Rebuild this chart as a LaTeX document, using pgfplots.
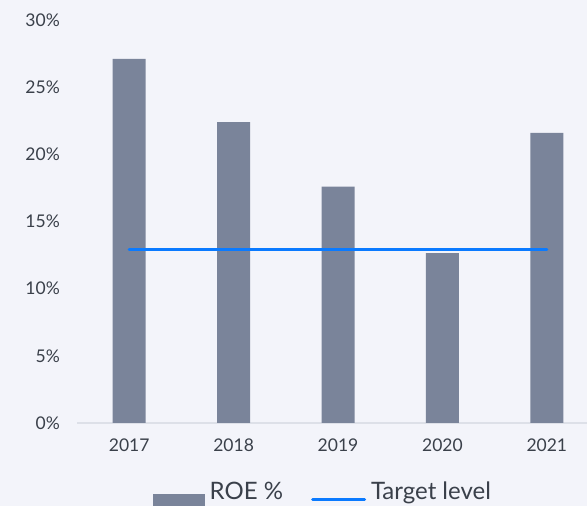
\documentclass[border=0pt]{standalone}
\usepackage{fontspec}
\setmainfont{Lato}
\usepackage{pgfplots}
\pgfplotsset{compat=1.18}
\definecolor{bgcol}{RGB}{243,244,250}
\definecolor{barcol}{RGB}{122,132,154}
\definecolor{linecol}{RGB}{10,122,255}
\definecolor{basecol}{RGB}{221,224,232}
\definecolor{txtcol}{RGB}{58,64,74}
\begin{document}
\begin{tikzpicture}[x=1bp,y=1bp]
\useasboundingbox (0,0) rectangle (587,506);
\fill[bgcol] (0,0) rectangle (587,506);
\clip (0,0) rectangle (587,506);
\begin{axis}[
  at={(77bp,83bp)}, anchor=south west,
  scale only axis, width=510bp, height=403bp,
  xmin=-0.5, xmax=4.385, ymin=0, ymax=30,
  axis x line*=bottom, axis y line*=left,
  x axis line style={color=basecol, line width=1.5bp, -},
  y axis line style={draw=none},
  major tick length=0pt,
  xtick={0,1,2,3,4},
  xticklabels={2017,2018,2019,2020,2021},
  ytick={0,5,10,15,20,25,30},
  yticklabel={\pgfmathprintnumber{\tick}\%},
  /pgf/number format/assume math mode=true,
  tick label style={font=\fontsize{17.5bp}{21bp}\selectfont, text=txtcol},
  yticklabel style={anchor=east, inner sep=0pt, xshift=-17bp},
  xticklabel style={anchor=north, inner sep=0pt, yshift=-15.5bp},
  legend style={draw=none, fill=none, inner sep=0pt, at={(0.48,-0.1706)}, anchor=center,
    nodes={inner sep=0pt}, cells={anchor=west},
    font=\fontsize{24bp}{28bp}\selectfont, text=txtcol,
    legend columns=2,
    /tikz/every odd column/.append style={column sep=5bp},
    /tikz/every even column/.append style={column sep=28bp}},
]
\addplot[ybar, bar width=33bp, bar shift=0pt, fill=barcol, draw=none,
  legend image code/.code={\path[draw=none,fill=none] (0bp,-9bp) rectangle (52bp,9bp);
    \fill[barcol, overlay] (0bp,-20bp) rectangle (52bp,-2bp);}]
  coordinates {(0,27.1) (1,22.4) (2,17.6) (3,12.65) (4,21.6)};
\addlegendentry{ROE \%}
\addplot[color=linecol, line width=3bp, line cap=round,
  legend image code/.code={\path[draw=none,fill=none] (0bp,-9bp) rectangle (55bp,9bp);
    \draw[linecol, line width=3bp, line cap=round, overlay] (1.5bp,-8bp) -- (53.5bp,-8bp);}]
  coordinates {(0,12.95) (4,12.95)};
\addlegendentry{Target level}
\end{axis}
\end{tikzpicture}
\end{document}
